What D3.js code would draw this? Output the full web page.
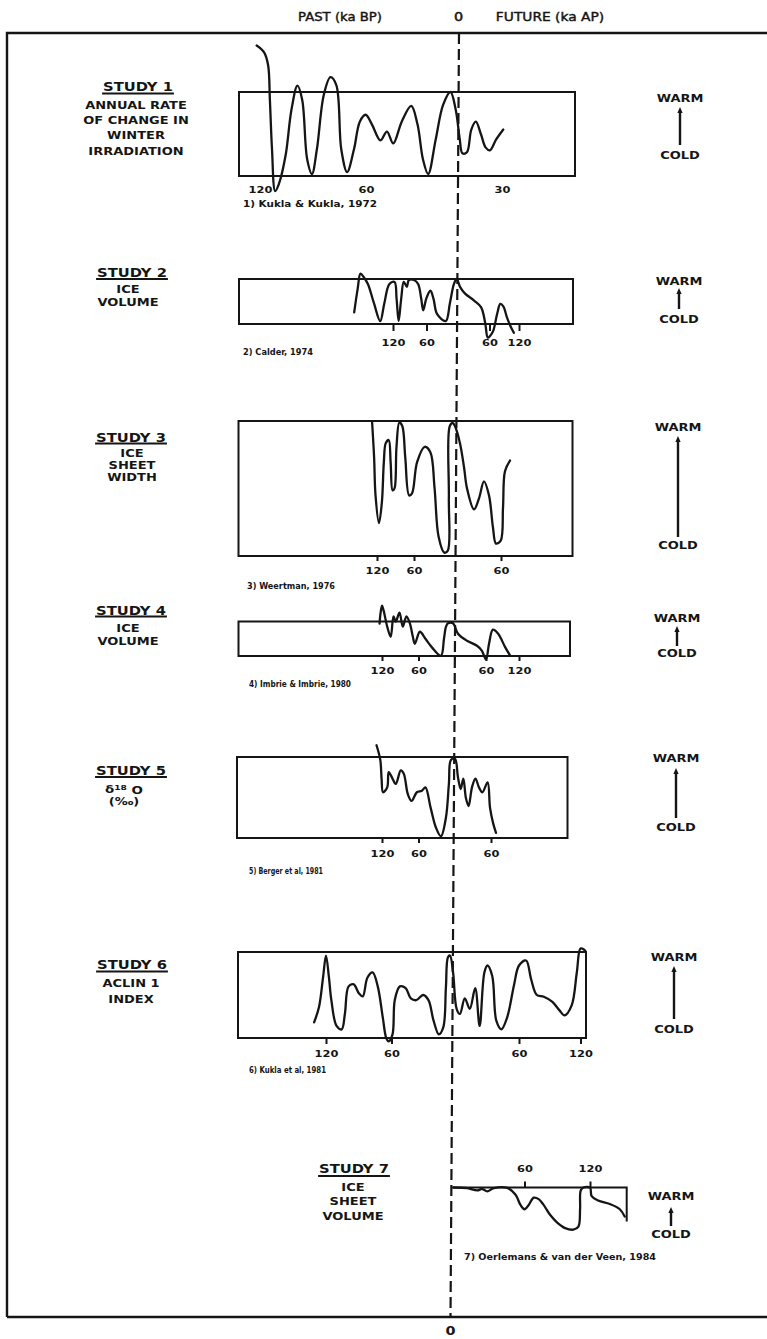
<!DOCTYPE html>
<html><head><meta charset="utf-8">
<script src="https://cdn.jsdelivr.net/npm/d3@7"></script>
<style>
body{margin:0;background:#fff}
svg text{font-family:"DejaVu Sans",sans-serif;fill:#151515;font-weight:bold}
</style></head><body>
<svg id="c" width="767" height="1339"></svg>
<script>
// ---------------- DATA (time in ka: negative = past BP, positive = future AP; value = relative warmth, % of box) -------------
const headerLabels = ["PAST (ka BP)", "0", "FUTURE (ka AP)"];
const bottomZeroLabel = "0";
const scaleWords = ["WARM", "COLD"];

const study1Title = "STUDY 1";
const study1Desc = ["ANNUAL RATE", "OF CHANGE IN", "WINTER", "IRRADIATION"];
const study1Cite = "1) Kukla & Kukla, 1972";
const study1Ticks = [-120, -60, 30];
const study1TickLabels = ["120", "60", "30"];
const study1Curve = [[-121.9,155.3],[-117.6,147],[-115.4,131.8],[-114.4,90.6],[-113.2,31.8],[-111.4,-18],[-109.3,-9.4],[-105.5,24.7],[-102.2,78.8],[-98.8,107.6],[-96.1,90.6],[-93.3,20],[-90.6,2.4],[-87.8,31.8],[-83.9,96.5],[-80.1,117.6],[-76.8,108.2],[-74,31.8],[-70.7,4.7],[-66.8,31.8],[-63.5,64.7],[-60.2,72.9],[-56.1,61.2],[-50.6,42.4],[-46.4,52.9],[-42.3,38.8],[-36.8,64.7],[-30.6,83.5],[-26.5,61.2],[-23,20],[-19.6,2.4],[-14.7,43.5],[-9.9,84.7],[-5.1,100],[-1.7,78.8],[1,43.5],[2.8,27],[5.9,28.2],[8.9,55.3],[12,64.7],[15.6,49.4],[18.7,34.1],[21.7,30.6],[26,43.5],[30.9,55.3]];

const study2Title = "STUDY 2";
const study2Desc = ["ICE", "VOLUME"];
const study2Cite = "2) Calder, 1974";
const study2Ticks = [-120, -60, 60, 120];
const study2TickLabels = ["120", "60", "60", "120"];
const study2Curve = [[-189.5,26],[-183.3,78],[-178.2,112],[-172.3,104],[-165,89],[-154,45.7],[-142.9,6.5],[-135.6,45.7],[-126.4,89],[-117.2,93.5],[-113.6,56.5],[-109.9,6.5],[-105.3,56.5],[-100.7,93.5],[-95.2,82.6],[-91.6,97.8],[-82.4,97.8],[-75,89],[-69.5,56.5],[-65.9,30.4],[-60.4,56.5],[-52.4,73.9],[-46.4,56.5],[-39.2,21.7],[-22.4,6.5],[-14.4,45.7],[-6.4,89],[-1.2,100],[5.2,82.6],[14.6,67.4],[31.4,52.2],[44.5,37],[52,2.2],[56.8,-30.4],[61.4,-26],[67.6,-15.2],[75.8,24],[82,44.6],[88.1,39],[95.3,15.2],[102.5,-4.3],[109.5,-19.6]];

const study3Title = "STUDY 3";
const study3Desc = ["ICE", "SHEET", "WIDTH"];
const study3Cite = "3) Weertman, 1976";
const study3Ticks = [-120, -60, 60];
const study3TickLabels = ["120", "60", "60"];
const study3Curve = [[-127.9,98.9],[-124.7,73.2],[-122.4,44.9],[-116.8,24.4],[-112.1,39.7],[-108.9,69.5],[-105.8,83.6],[-101,85.9],[-97.9,69.5],[-94.7,48.6],[-91.6,50.1],[-88.4,80.7],[-83.7,98.9],[-79,96.3],[-74.2,73.2],[-67.9,44.9],[-63.2,46.4],[-55.6,69.5],[-44.7,80.9],[-36.6,76.9],[-30.7,50.9],[-24.9,14.4],[-16.8,2.5],[-11.7,4],[-10.2,43.4],[-8.8,96.3],[-4.4,98.5],[-1.5,96.3],[5.3,83.6],[10.7,65.8],[14.7,50.1],[24,34.5],[30.7,42.7],[37.3,55.3],[44,44.9],[49.3,21.1],[53.3,9.2],[59.6,11.4],[62.7,36],[65.3,62.8],[72,70.7]];

const study4Title = "STUDY 4";
const study4Desc = ["ICE", "VOLUME"];
const study4Cite = "4) Imbrie & Imbrie, 1980";
const study4Ticks = [-120, -60, 60, 120];
const study4TickLabels = ["120", "60", "60", "120"];
const study4Curve = [[-124,93.6],[-122.3,125.6],[-120,146],[-117.3,131.4],[-111.4,84.9],[-105.7,55.8],[-101.1,115.1],[-97.4,100],[-91.3,125.6],[-85.8,84.9],[-79.9,115.1],[-74.3,95],[-69.3,55.8],[-66,35.5],[-57.7,70.3],[-48.6,50],[-37.9,25],[-23.1,0.6],[-18.1,50],[-14.8,84.9],[-11.5,95],[-3.3,95],[5.8,64.5],[23.2,44.2],[42.6,29.7],[52.2,15.1],[60,-10.2],[65.5,35.5],[72.5,76.2],[82.1,64.5],[95,25],[104.2,0.6]];

const study5Title = "STUDY 5";
const study5Desc = ["δ18O", "(‰)"];
const study5Cite = "5) Berger et al, 1981";
const study5Ticks = [-120, -60, 60];
const study5TickLabels = ["120", "60", "60"];
const study5Curve = [[-129,114.5],[-122.8,96.4],[-120.7,73.4],[-118.3,56.5],[-111.4,62.5],[-109,81.4],[-102.8,73.4],[-97.4,66.7],[-89.1,83.4],[-84.2,79.4],[-77.5,54],[-71.4,45.8],[-62.7,56.5],[-54.2,58.4],[-48.3,62.5],[-39.5,37.5],[-30.5,12.9],[-22,2.1],[-13.6,25],[-8.5,67.4],[-5.1,96.4],[1.6,97.9],[6.5,75.1],[10.9,60.5],[15.2,73.4],[19.4,49.2],[23.7,39.5],[29.2,62.5],[34.8,73.4],[40.5,62.5],[46,56.5],[54.5,68.8],[58.4,37.5],[63.2,19],[68.1,6.3]];

const study6Title = "STUDY 6";
const study6Desc = ["ACLIN 1", "INDEX"];
const study6Cite = "6) Kukla et al, 1981";
const study6Ticks = [-120, -60, 60, 120];
const study6TickLabels = ["120", "60", "60", "120"];
const study6Curve = [[-130.9,18.2],[-126.4,36],[-122.7,70.4],[-120,95.9],[-117.3,70.4],[-115.1,44],[-110.3,14],[-105.6,10.1],[-102.7,28],[-99.3,60],[-94.6,62.3],[-89.9,52],[-86.3,48.4],[-82.1,70.1],[-77.3,76.2],[-72.6,60],[-68,24],[-64.8,0],[-62.6,-3.8],[-59,4.3],[-56.8,44],[-51.8,60],[-46.1,58],[-41,46.1],[-35.7,44],[-28.9,50],[-23.7,44],[-18.7,20.1],[-13.6,4.3],[-9.2,12.4],[-6.6,58.8],[-4.6,94],[-2.6,95.9],[0.4,76.2],[3.6,34],[6.6,28],[11,46.1],[15.5,34],[20.4,58],[24.4,14],[28.7,76.2],[31.5,84.3],[35.8,72],[39.5,20.1],[44,10.1],[49.3,24],[55.6,62.3],[60,84.3],[66.9,90.1],[71.9,68],[77.4,50],[84.2,48],[92.6,42],[99.5,32.1],[104.5,26.3],[111.4,37.9],[116.4,76.2],[120,104],[123.3,102.9],[125.3,100]];

const study7Title = "STUDY 7";
const study7Desc = ["ICE", "SHEET", "VOLUME"];
const study7Cite = "7) Oerlemans & van der Veen, 1984";
const study7Ticks = [60, 120];
const study7TickLabels = ["60", "120"];
const study7Curve = [[1.7,0],[13.2,-1.4],[21.3,-6.8],[25.4,-3.4],[29.5,-8.8],[34.9,-1.4],[45.9,-0.8],[52.7,-16.8],[56.7,-40],[60,-50],[63.9,-40],[68.5,-23.4],[73,-26.8],[77.5,-40],[83.6,-63.4],[89.7,-80],[97.3,-93.4],[104.8,-96.8],[109.4,-90],[110.9,-50],[111.5,-6.8],[113.9,0],[120,0],[121.5,-20],[127.5,-30],[138.2,-38],[147.3,-50],[151.8,-66.8]];

// ---------------- LAYOUT -------------
const panels = [
 {curve:study1Curve, ticks:study1Ticks, tickLabels:study1TickLabels, title:study1Title, desc:study1Desc, cite:study1Cite,
  box:{x0:239,x1:575,top:92,bottom:176}, vDomain:[0,100], tickPx:[260,366,502], tickLen:0, tickY:190,
  titlePos:[138,86], ulY:93.5, descX:136, descY:[105.5,120.5,135.5,151], citePos:[243,204], citeW:134,
  wc:{x:680,warm:98,cold:155,a0:107,a1:145}},
 {curve:study2Curve, ticks:study2Ticks, tickLabels:study2TickLabels, title:study2Title, desc:study2Desc, cite:study2Cite,
  box:{x0:239,x1:573,top:279,bottom:324}, vDomain:[0,100], tickPx:[393,426.5,489.5,519], tickLen:7, tickY:342.5,
  titlePos:[132,272], ulY:279, descX:128, descY:[289,302], citePos:[243,352], citeW:70,
  wc:{x:679,warm:281,cold:319,a0:288,a1:309}},
 {curve:study3Curve, ticks:study3Ticks, tickLabels:study3TickLabels, title:study3Title, desc:study3Desc, cite:study3Cite,
  box:{x0:238.5,x1:572.5,top:421,bottom:556}, vDomain:[0,100], tickPx:[377,414,501], tickLen:5, tickY:570.5,
  titlePos:[131,437], ulY:443.5, descX:132, descY:[453,465.5,477.5], citePos:[247,586], citeW:88,
  wc:{x:678,warm:427,cold:545.5,a0:436,a1:537}},
 {curve:study4Curve, ticks:study4Ticks, tickLabels:study4TickLabels, title:study4Title, desc:study4Desc, cite:study4Cite,
  box:{x0:238.5,x1:570,top:621.5,bottom:656}, vDomain:[0,100], tickPx:[382,418.5,486,519], tickLen:5, tickY:670.5,
  titlePos:[131,610], ulY:616.5, descX:128, descY:[628,641], citePos:[249,684.5], citeW:102,
  wc:{x:677,warm:618,cold:653.5,a0:626,a1:646}},
 {curve:study5Curve, ticks:study5Ticks, tickLabels:study5TickLabels, title:study5Title, desc:study5Desc, cite:study5Cite,
  box:{x0:237,x1:567.5,top:757,bottom:838}, vDomain:[0,100], tickPx:[382,418.5,491], tickLen:5, tickY:853.5,
  titlePos:[131,770.5], ulY:777, descX:124, descY:[789,801.5], citePos:[249,871], citeW:74,
  wc:{x:676,warm:758.5,cold:827.5,a0:768,a1:818}},
 {curve:study6Curve, ticks:study6Ticks, tickLabels:study6TickLabels, title:study6Title, desc:study6Desc, cite:study6Cite,
  box:{x0:238,x1:586,top:952,bottom:1038}, vDomain:[0,100], tickPx:[326,391.5,519,580.5], tickLen:6, tickY:1053.5,
  titlePos:[132,964.5], ulY:971.5, descX:131, descY:[983.5,999], citePos:[249,1070], citeW:77,
  wc:{x:674,warm:957,cold:1029,a0:966,a1:1019}},
 {curve:study7Curve, ticks:study7Ticks, tickLabels:study7TickLabels, title:study7Title, desc:study7Desc, cite:study7Cite,
  box:{x0:452.5,x1:626.7,top:1187.5,bottom:1231,rightEnd:1221.5}, open:true, axisTop:true, vDomain:[-100,0], tickPx:[524.5,590], tickLen:6, tickY:1169,
  titlePos:[354,1168], ulY:1176, descX:353, descY:[1187.5,1201.5,1216.5], citePos:[464,1257.5], citeW:192,
  wc:{x:671,warm:1196.5,cold:1234.5,a0:1207,a1:1226}}
];

const INK = "#151515";
const svg = d3.select("#c");
const zeroX = y => 459 - (y - 33) * 8.5 / 1285;

function addText(g, str, x, y, size, stretch, anchor) {
  return g.append("text")
    .attr("transform", `translate(${x},${y}) scale(${stretch},1)`)
    .attr("text-anchor", anchor || "middle")
    .attr("dy", "0.36em")
    .style("font-size", size + "px")
    .text(str);
}

// frame
const frame = svg.append("g").attr("fill", "none").attr("stroke", INK).attr("stroke-width", 2.4);
frame.append("path").attr("d", "M7,1317 L7,33 L767,33");
frame.append("path").attr("d", "M7,1317 L767,1317");

// zero dashed line
svg.append("line")
  .attr("x1", zeroX(33)).attr("y1", 33).attr("x2", zeroX(1317)).attr("y2", 1317)
  .attr("stroke", INK).attr("stroke-width", 2.2).attr("stroke-dasharray", "11,5");

// header
const hdr = svg.append("g");
addText(hdr, headerLabels[0], 340, 16.5, 11.5, 1.15).style("font-weight", "normal").attr("stroke", INK).attr("stroke-width", 0.4);
addText(hdr, headerLabels[1], 458.5, 16.5, 12, 1.2).style("font-weight", "normal").attr("stroke", INK).attr("stroke-width", 0.5);
addText(hdr, headerLabels[2], 550, 16.5, 11.5, 1.2).style("font-weight", "normal").attr("stroke", INK).attr("stroke-width", 0.4);
addText(svg, bottomZeroLabel, zeroX(1331), 1331, 12, 1.2);

panels.forEach(p => {
  const g = svg.append("g");
  const b = p.box;
  const z = zeroX((b.top + b.bottom) / 2);
  const pairs = p.ticks.map((t, i) => [t, p.tickPx[i]]).concat([[0, z]]).sort((a, c) => a[0] - c[0]);
  const x = d3.scaleLinear().domain(pairs.map(d => d[0])).range(pairs.map(d => d[1]));
  const y = d3.scaleLinear().domain(p.vDomain).range([b.bottom, b.top]);

  // box
  if (p.open) {
    g.append("path").attr("d", `M${b.x0},${b.top} L${b.x1},${b.top} L${b.x1},${b.rightEnd}`)
      .attr("fill", "none").attr("stroke", INK).attr("stroke-width", 2);
  } else {
    g.append("rect").attr("x", b.x0).attr("y", b.top).attr("width", b.x1 - b.x0).attr("height", b.bottom - b.top)
      .attr("fill", "none").attr("stroke", INK).attr("stroke-width", 2);
  }

  // axis
  const axisY = p.axisTop ? b.top : b.bottom;
  const axis = (p.axisTop ? d3.axisTop(x) : d3.axisBottom(x))
    .tickValues(p.ticks).tickFormat((d, i) => p.tickLabels[i]).tickSize(p.tickLen).tickSizeOuter(0);
  const ag = g.append("g").attr("transform", `translate(0,${axisY})`).attr("color", INK).call(axis);
  ag.select(".domain").remove();
  ag.selectAll(".tick line").attr("stroke-width", 2);
  ag.selectAll(".tick text").attr("y", p.tickY - axisY).attr("dy", "0.36em")
    .attr("transform", "scale(1.2,1)").style("font-size", "9.5px");

  // curve
  const line = d3.line().x(d => x(d[0])).y(d => y(d[1])).curve(d3.curveCatmullRom.alpha(0.5));
  g.append("path").datum(p.curve).attr("d", line)
    .attr("fill", "none").attr("stroke", INK).attr("stroke-width", 2.3).attr("stroke-linejoin", "round").attr("stroke-linecap", "round");

  // title + underline
  const st = 1.18;
  const tt = addText(g, p.title, p.titlePos[0], p.titlePos[1], 12.5, st);
  const w = tt.node().getComputedTextLength() * st;
  g.append("line").attr("x1", p.titlePos[0] - w / 2 - 1).attr("x2", p.titlePos[0] + w / 2 + 1)
    .attr("y1", p.ulY).attr("y2", p.ulY).attr("stroke", INK).attr("stroke-width", 2);

  // description lines
  p.desc.forEach((s, i) => {
    if (s === "δ18O") {
      const t = g.append("text")
        .attr("transform", `translate(${p.descX},${p.descY[i]}) scale(1.22,1)`)
        .attr("text-anchor", "middle").attr("dy", "0.36em").style("font-size", "11px");
      t.append("tspan").text("δ");
      t.append("tspan").attr("dy", "-0.35em").style("font-size", "7.5px").text("18");
      t.append("tspan").attr("dy", "0.35em").text(" O");
    } else {
      addText(g, s, p.descX, p.descY[i], 10.5, 1.24);
    }
  });

  // citation
  g.append("text").attr("x", p.citePos[0]).attr("y", p.citePos[1]).attr("dy", "0.36em")
    .attr("textLength", p.citeW).attr("lengthAdjust", "spacingAndGlyphs")
    .style("font-size", "8.3px").text(p.cite);

  // warm / cold indicator
  const wc = p.wc;
  addText(g, scaleWords[0], wc.x, wc.warm, 10, 1.3);
  addText(g, scaleWords[1], wc.x, wc.cold, 10, 1.3);
  g.append("line").attr("x1", wc.x).attr("x2", wc.x).attr("y1", wc.a0 + 4).attr("y2", wc.a1)
    .attr("stroke", INK).attr("stroke-width", 2.4);
  g.append("path").attr("d", `M${wc.x},${wc.a0} L${wc.x - 2.6},${wc.a0 + 6} L${wc.x + 2.6},${wc.a0 + 6} Z`).attr("fill", INK);
});
</script>
</body></html>
